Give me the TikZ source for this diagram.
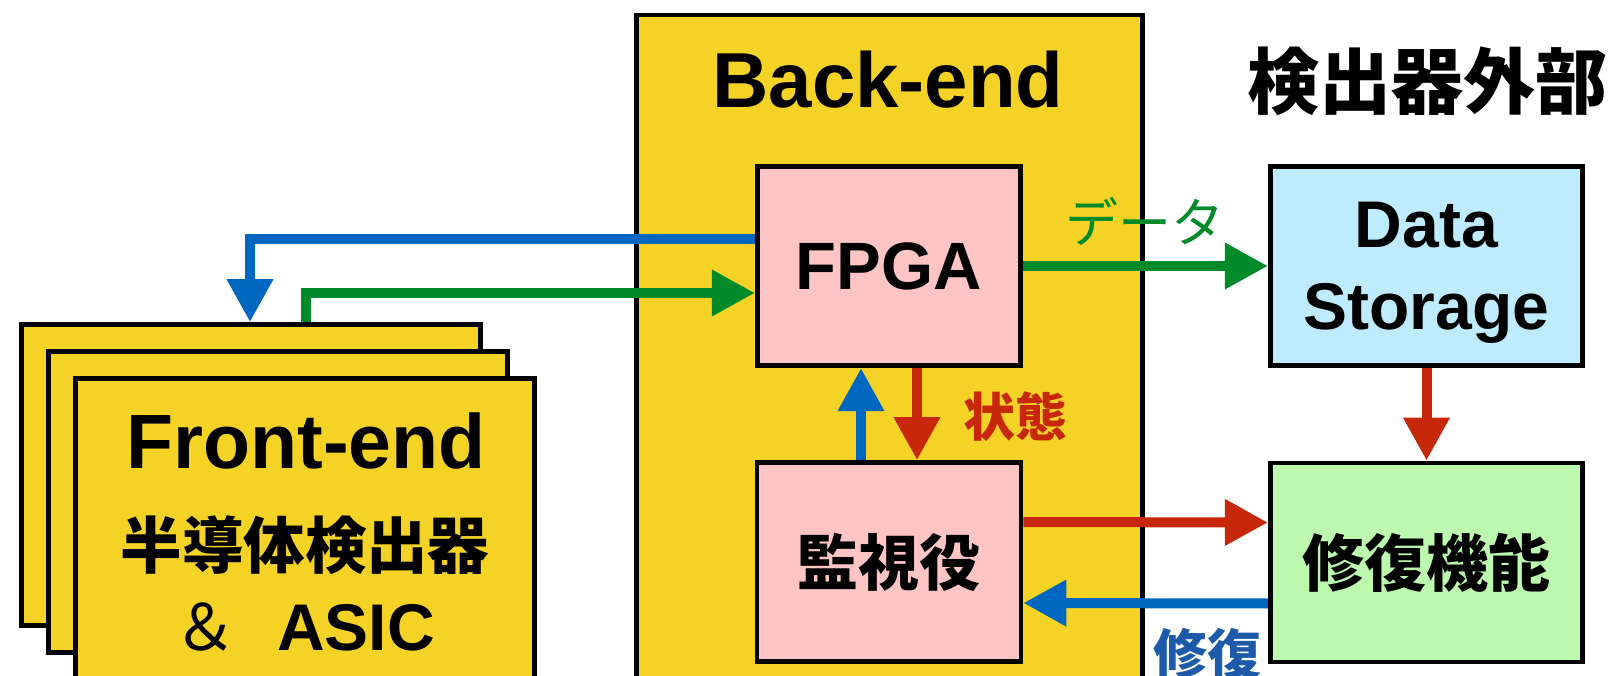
\documentclass[tikz,border=0pt]{standalone}
\usepackage{fontspec}
\setmainfont{Liberation Sans}
\newfontfamily\jp{Noto Sans CJK JP}
\usetikzlibrary{arrows.meta}
\definecolor{byellow}{RGB}{245,211,38}
\definecolor{bpink}{RGB}{255,196,196}
\definecolor{bblue}{RGB}{190,235,253}
\definecolor{bgreen}{RGB}{188,249,174}
\definecolor{ablue}{RGB}{0,103,192}
\definecolor{agreen}{RGB}{0,138,42}
\definecolor{ared}{RGB}{200,40,10}
\definecolor{lblue}{RGB}{30,90,170}
\begin{document}
\begin{tikzpicture}[x=1pt,y=-1pt,
  box/.style={draw=black,line width=4.7pt,inner sep=0pt,anchor=center},
  card/.style={box,fill=byellow,minimum width=459pt,minimum height=301pt},
  conn/.style={line width=10pt,-{Triangle[length=43pt,width=44pt]}},
  barrow/.style={conn,draw=ablue,color=ablue},
  garrow/.style={conn,draw=agreen,color=agreen},
  rarrow/.style={conn,draw=ared,color=ared},
  lat/.style={font=\bfseries\fontsize{#1}{#1}\selectfont},
  jpb/.style={font=\jp\bfseries\fontsize{#1}{#1}\selectfont}
]
\useasboundingbox (0,0) rectangle (1610,676);
% Back-end
\node[box,fill=byellow,minimum width=506.5pt,minimum height=785pt] (backend) at (889.5,407.5) {};
\node[lat=78pt,anchor=base] (betitle) at (888,108) {Back-end};
\node[jpb=72pt,anchor=base] (outtitle) at (1427,109) {検出器外部};
% Front-end cards
\node[card] (fe1) at (251,475) {};
\node[card] (fe2) at (278,502) {};
\node[card] (fe3) at (305,529) {};
\node[lat=77pt,anchor=base] (fetitle) at (306,468) {Front-end};
\node[jpb=61.5pt,anchor=base] (fesub) at (305,568) {半導体検出器};
\node[lat=66pt,anchor=base] (feasic) at (304,650) {{\jp\mdseries\fontsize{64pt}{64pt}\selectfont ＆}\hspace{40pt}ASIC};
% inner boxes
\node[box,fill=bpink,minimum width=263.5pt,minimum height=199.5pt,lat=67pt] (fpga) at (889,266) {FPGA};
\node[box,fill=bpink,minimum width=264pt,minimum height=199pt,jpb=61pt] (mon) at (889,562) {監視役};
\node[box,fill=bblue,minimum width=312.5pt,minimum height=199.5pt,align=center,font=\bfseries\fontsize{66pt}{82pt}\selectfont] (ds) at (1426.5,266) {};
\node[font=\bfseries\fontsize{66pt}{82pt}\selectfont,align=center,yshift=-7pt] (dstext) at (ds) {Data\\Storage};
\node[box,fill=bgreen,minimum width=312.5pt,minimum height=199pt,jpb=62pt] (rep) at (1426.5,562.5) {修復機能};
% connectors
\draw[barrow] ([yshift=27pt]fpga.west) -| ([xshift=-1pt]fe1.north);
\draw[garrow] ([xshift=55pt]fe1.north) |- ([yshift=-27pt]fpga.west);
\draw[garrow] (fpga.east) -- (ds.west);
\draw[barrow] ([xshift=-28pt]mon.north) -- ([xshift=-28pt]fpga.south);
\draw[rarrow] ([xshift=28pt]fpga.south) -- ([xshift=28pt]mon.north);
\draw[rarrow] (ds.south) -- (rep.north);
\draw[rarrow] ([yshift=40pt]mon.east) -- ([yshift=40pt]rep.west);
\draw[barrow] ([yshift=-41pt]rep.west) -- ([yshift=-41pt]mon.east);
% labels
\node[font=\jp\fontsize{53pt}{53pt}\selectfont,text=agreen,anchor=center] (ldata) at (1145,221) {データ};
\node[jpb=52pt,text=ared,anchor=base] (lstate) at (1015,436) {状態};
\node[jpb=54pt,text=lblue,anchor=base] (lrep) at (1207,674) {修復};
\end{tikzpicture}
\end{document}
